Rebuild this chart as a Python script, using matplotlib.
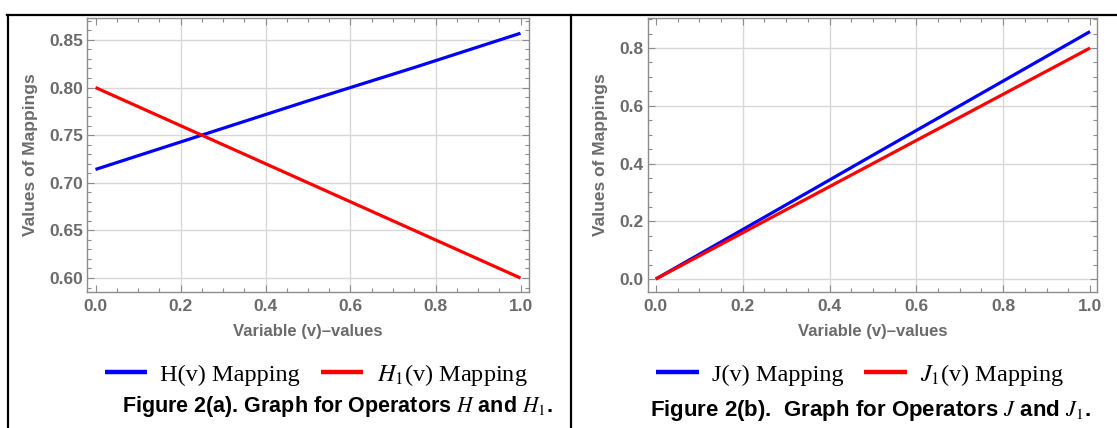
import matplotlib
matplotlib.use("Agg")
import matplotlib.pyplot as plt
from matplotlib.lines import Line2D
from matplotlib.ticker import MultipleLocator, FixedLocator

plt.rcParams['mathtext.fontset'] = 'stix'

# ---- data ----
v = [0.0, 0.25, 0.5, 0.75, 1.0]
H = [0.714, 0.750, 0.786, 0.821, 0.857]
H1 = [0.800, 0.750, 0.700, 0.650, 0.600]
J = [0.0, 0.214, 0.429, 0.643, 0.857]
J1 = [0.0, 0.200, 0.400, 0.600, 0.800]

x_ticks = [0.0, 0.2, 0.4, 0.6, 0.8, 1.0]
y_ticks_a = [0.60, 0.65, 0.70, 0.75, 0.80, 0.85]
y_ticks_b = [0.0, 0.2, 0.4, 0.6, 0.8]

W, Hh = 1117, 428
fig = plt.figure(figsize=(W / 100, Hh / 100), dpi=100)

FRAME = '#8c8c8c'
TICKC = '#6b6b6b'
GRID = '#d8d8d8'


def fx(px):
    return px / W


def fy(py):
    return 1 - py / Hh


def style(ax, yticks, ymaj_fmt, yminor, xlim, ylim):
    ax.set_xlim(*xlim)
    ax.set_ylim(*ylim)
    ax.xaxis.set_major_locator(FixedLocator(x_ticks))
    ax.yaxis.set_major_locator(FixedLocator(yticks))
    ax.xaxis.set_minor_locator(MultipleLocator(0.05))
    ax.yaxis.set_minor_locator(MultipleLocator(yminor))
    ax.set_xticklabels([f"{t:.1f}" for t in x_ticks])
    ax.set_yticklabels([ymaj_fmt.format(t) for t in yticks])
    for s in ax.spines.values():
        s.set_color(FRAME)
        s.set_linewidth(1.0)
    ax.tick_params(which='both', direction='in', top=True, right=True,
                   color=FRAME, width=0.8)
    ax.tick_params(which='major', length=5, labelsize=12.5,
                   labelcolor=TICKC)
    ax.tick_params(axis='x', which='major', pad=5)
    ax.tick_params(axis='y', which='major', pad=3)
    ax.tick_params(which='minor', length=3)
    for lab in ax.get_xticklabels() + ax.get_yticklabels():
        lab.set_fontfamily('Liberation Sans')
        lab.set_fontweight('bold')
    ax.grid(True, which='major', color=GRID, linewidth=1.0)
    xg = ax.get_xgridlines()
    xg[0].set_visible(False)
    xg[-1].set_visible(False)
    ax.set_axisbelow(True)
    ax.set_xlabel('Variable (v)–values', fontfamily='Liberation Sans',
                  fontweight='bold', fontsize=12, color=TICKC, labelpad=7)
    ax.set_ylabel('Values of Mappings', fontfamily='Liberation Sans',
                  fontweight='bold', fontsize=12.5, color=TICKC, labelpad=8)


# ---- left panel ----
axa = fig.add_axes([fx(87), fy(292), fx(529 - 87), (292 - 18) / Hh])
la, = axa.plot(v, H, color='#0000ff', lw=2.3, solid_capstyle='butt')
lb, = axa.plot(v, H1, color='#ff0000', lw=2.3, solid_capstyle='butt')
style(axa, y_ticks_a, "{:.2f}", 0.01, (-0.02, 1.02), (0.5853, 0.873))

# ---- right panel ----
axb = fig.add_axes([fx(648), fy(292), fx(1097 - 648), (292 - 18) / Hh])
lc, = axb.plot(v, J, color='#0000ff', lw=2.3, solid_capstyle='butt')
ld, = axb.plot(v, J1, color='#ff0000', lw=2.3, solid_capstyle='butt')
style(axb, y_ticks_b, "{:.1f}", 0.05, (-0.018, 1.016), (-0.045, 0.904))

# ---- legends ----
leg_prop = {'family': 'Liberation Serif', 'size': 17.5}
leg_kw = dict(loc='center', ncol=2, frameon=False, prop=leg_prop,
              handlelength=1.75, handletextpad=0.55, columnspacing=0.85)
fig.legend([la, lb], ['H(v) Mapping', r'$H_1$(v) Mapping'],
           bbox_to_anchor=(fx(316), fy(375)), **leg_kw)
fig.legend([lc, ld], ['J(v) Mapping', r'$J_1$(v) Mapping'],
           bbox_to_anchor=(fx(860), fy(375)), **leg_kw)
for leg in fig.legends:
    for h in leg.legend_handles:
        h.set_linewidth(3.2)

# ---- captions ----
fig.text(fx(337), fy(412), r'Figure 2(a). Graph for Operators $H$ and $H_1$.',
         ha='center', va='baseline', fontfamily='Liberation Sans',
         fontweight='bold', fontsize=15.5, color='black')
fig.text(fx(870), fy(416), r'Figure 2(b).  Graph for Operators $J$ and $J_1$.',
         ha='center', va='baseline', fontfamily='Liberation Sans',
         fontweight='bold', fontsize=16, color='black')

# ---- table borders ----
fig.add_artist(Line2D([fx(7), 1.0], [fy(15), fy(15)], color='black', lw=1.6))
fig.add_artist(Line2D([fx(7.5), fx(7.5)], [fy(15), 0.0], color='black', lw=1.6))
fig.add_artist(Line2D([fx(571), fx(571)], [fy(15), 0.0], color='black', lw=1.6))

fig.savefig('out.png', dpi=100)
